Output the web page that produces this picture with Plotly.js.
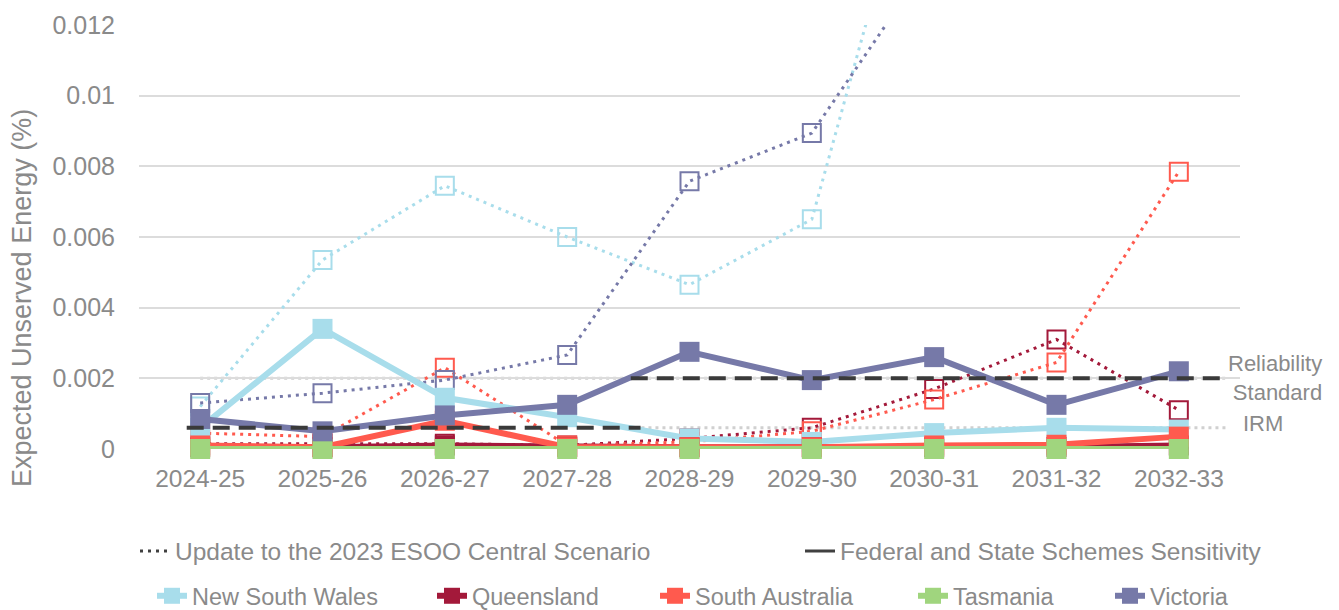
<!DOCTYPE html>
<html>
<head>
<meta charset="utf-8">
<script src="https://cdn.plot.ly/plotly-3.0.1.min.js"></script>
<style>
  html, body { margin: 0; padding: 0; background: #ffffff; }
  #chart { width: 1339px; height: 610px; }
</style>
</head>
<body>
<div id="chart"></div>
<script>
// ---------- data ----------
const years = ['2024-25', '2025-26', '2026-27', '2027-28', '2028-29', '2029-30', '2030-31', '2031-32', '2032-33'];

// Federal and State Schemes Sensitivity (solid lines, filled squares)
const nswFed = [0.0006, 0.0034, 0.00145, 0.0009, 0.0003, 0.0002, 0.00045, 0.0006, 0.00055];
const qldFed = [0.00005, 0.00005, 0.0001, 0.00006, 0.00005, 0.00005, 0.00005, 0.00006, 0.0001];
const saFed  = [0.0001, 0.00005, 0.0008, 0.00005, 0.00005, 0.00005, 0.0001, 0.00012, 0.00035];
const tasFed = [0, 0, 0, 0, 0, 0, 0, 0, 0];
const vicFed = [0.00085, 0.0005, 0.00095, 0.00125, 0.00275, 0.00195, 0.0026, 0.00125, 0.0022];

// Update to the 2023 ESOO Central Scenario (dotted lines, open squares)
const nswEsoo = [0.0012, 0.00535, 0.00745, 0.006, 0.00465, 0.0065, 0.019, null, null];
const qldEsoo = [0.00015, 0.00015, 0.00015, 0.0001, 0.0003, 0.0006, 0.0017, 0.0031, 0.0011];
const saEsoo  = [0.00045, 0.00035, 0.0023, 0.0001, 0.0002, 0.0005, 0.0014, 0.00245, 0.00785];
const tasEsoo = [0, 0, 0, 0, 0, 0, 0, 0, 0];
const vicEsoo = [0.0013, 0.00158, 0.00195, 0.00266, 0.00758, 0.00894, 0.014, null, null];

// Reference levels
const reliabilityStandard = 0.002;
const irmLevel = 0.0006;

// Axis ticks
const yTickVals = [0, 0.002, 0.004, 0.006, 0.008, 0.01, 0.012];
const yTickText = ['0', '0.002', '0.004', '0.006', '0.008', '0.01', '0.012'];

const regionNames = ['New South Wales', 'Queensland', 'South Australia', 'Tasmania', 'Victoria'];
const scenarioNames = ['Update to the 2023 ESOO Central Scenario', 'Federal and State Schemes Sensitivity'];

// ---------- styling ----------
const colors = ['#A8DDEB', '#A3193A', '#FF5A4E', '#A0D57E', '#7679A8'];
const textColor = '#8a8a8a';
const regular = '"Liberation Sans", Arial, sans-serif';
const dotDash = '3px,5px';

const fedSeries = [nswFed, qldFed, saFed, tasFed, vicFed];
const esooSeries = [nswEsoo, qldEsoo, saEsoo, tasEsoo, vicEsoo];

const traces = [];

// dotted scenario traces first (beneath)
esooSeries.forEach((vals, i) => {
  traces.push({
    type: 'scatter', mode: 'lines+markers', x: years, y: vals,
    name: regionNames[i] + ' (ESOO)', showlegend: false,
    line: { color: colors[i], width: 3, dash: dotDash },
    marker: { symbol: 'square-open', size: 18, color: colors[i], line: { color: colors[i], width: 2 } },
    connectgaps: false, cliponaxis: true, hoverinfo: 'skip'
  });
});

// solid sensitivity traces, each with its own legend box (row 2)
const legendIds = ['legend3', 'legend4', 'legend5', 'legend6', 'legend7'];
fedSeries.forEach((vals, i) => {
  traces.push({
    type: 'scatter', mode: 'lines+markers', x: years, y: vals,
    name: regionNames[i], showlegend: true, legend: legendIds[i],
    line: { color: colors[i], width: 6 },
    marker: { symbol: 'square', size: 20, color: colors[i] },
    cliponaxis: false, hoverinfo: 'skip'
  });
});

// scenario key entries (row 1)
traces.push({
  type: 'scatter', mode: 'lines', x: [null], y: [null], name: scenarioNames[0],
  showlegend: true, legend: 'legend',
  line: { color: '#404040', width: 3, dash: dotDash }
});
traces.push({
  type: 'scatter', mode: 'lines', x: [null], y: [null], name: scenarioNames[1],
  showlegend: true, legend: 'legend2',
  line: { color: '#404040', width: 3 }
});

const W = 1339, H = 610;
function legendAt(px, py, fs) {
  return {
    xref: 'container', yref: 'container',
    x: px / W, y: 1 - py / H, xanchor: 'left', yanchor: 'middle',
    orientation: 'h', bgcolor: 'rgba(0,0,0,0)', borderwidth: 0,
    font: { family: regular, size: fs, color: textColor },
    itemclick: false, itemdoubleclick: false
  };
}

const shapes = [
  // light grey dotted reference lines
  { type: 'line', xref: 'x', yref: 'y', x0: 0, x1: 8.4, y0: reliabilityStandard, y1: reliabilityStandard,
    line: { color: '#d0d0d0', width: 3, dash: '3px,4px' }, layer: 'below' },
  { type: 'line', xref: 'x', yref: 'y', x0: 3.55, x1: 8.4, y0: irmLevel, y1: irmLevel,
    line: { color: '#d0d0d0', width: 3, dash: '3px,4px' }, layer: 'below' },
  // black dashed reference lines
  { type: 'line', xref: 'x', yref: 'y', x0: -0.11, x1: 3.6, y0: irmLevel, y1: irmLevel,
    line: { color: '#3a3a3a', width: 4, dash: '17px,9px' }, layer: 'above' },
  { type: 'line', xref: 'x', yref: 'y', x0: 3.52, x1: 8.4, y0: reliabilityStandard, y1: reliabilityStandard,
    line: { color: '#3a3a3a', width: 4, dash: '17px,9px' }, layer: 'above' }
];

const layout = {
  width: W, height: H,
  paper_bgcolor: '#ffffff', plot_bgcolor: '#ffffff',
  margin: { l: 139, r: 99, t: 25, b: 161, pad: 0 },
  font: { family: regular, color: textColor },
  xaxis: {
    type: 'category', categoryorder: 'array', categoryarray: years,
    range: [-0.5, 8.5], showgrid: false, zeroline: false, showline: false,
    ticks: 'outside', ticklen: 8, tickcolor: 'rgba(0,0,0,0)',
    tickfont: { family: regular, size: 24.5, color: textColor }, fixedrange: true
  },
  yaxis: {
    range: [0, 0.012], tickvals: yTickVals, ticktext: yTickText,
    showgrid: true, gridcolor: '#dcdcdc', gridwidth: 2,
    zeroline: false, showline: false,
    ticks: 'outside', ticklen: 18, tickcolor: 'rgba(0,0,0,0)',
    tickfont: { family: regular, size: 25, color: textColor }, fixedrange: true
  },
  showlegend: true,
  legend: legendAt(135, 551, 24.5),
  legend2: legendAt(800, 551, 24.5),
  legend3: legendAt(152, 596, 23.5),
  legend4: legendAt(432, 596, 23.5),
  legend5: legendAt(655, 596, 23.5),
  legend6: legendAt(913, 596, 23.5),
  legend7: legendAt(1110, 596, 23.5),
  shapes: shapes,
  annotations: [
    { text: 'Expected Unserved Energy (%)', xref: 'paper', yref: 'paper',
      x: (22 - 139) / 1101, y: (449 - 298) / 424, xanchor: 'center', yanchor: 'middle',
      textangle: -90, showarrow: false, font: { family: regular, size: 27, color: textColor } },
    { text: 'Reliability<br>Standard', xref: 'paper', yref: 'y',
      x: (1324 - 139) / 1101, y: reliabilityStandard, xanchor: 'right', yanchor: 'middle', align: 'right',
      showarrow: false, font: { family: regular, size: 22, color: textColor } },
    { text: 'IRM', xref: 'paper', yref: 'y',
      x: (1241 - 139) / 1101, y: irmLevel, yshift: 4, xanchor: 'left', yanchor: 'middle',
      showarrow: false, font: { family: regular, size: 22, color: textColor } }
  ]
};

Plotly.newPlot('chart', traces, layout, { staticPlot: true, displayModeBar: false });
</script>
</body>
</html>
